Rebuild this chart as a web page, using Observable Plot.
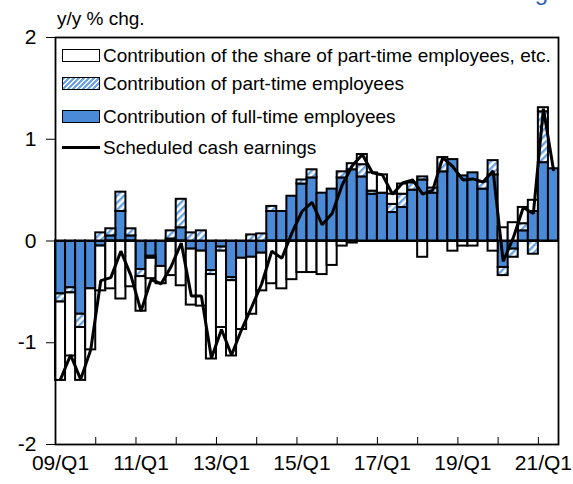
<!DOCTYPE html>
<html><head><meta charset="utf-8">
<script src="https://cdn.jsdelivr.net/npm/d3@7"></script>
<script src="https://cdn.jsdelivr.net/npm/@observablehq/plot@0.6"></script>
<style>
body{margin:0;background:#fff;font-family:"Liberation Sans",Arial,sans-serif;}
#wrap{position:relative;width:573px;height:484px;overflow:hidden;background:#fff;}
.lg{position:absolute;left:62px;display:flex;align-items:center;font-size:19px;color:#000;white-space:nowrap;line-height:1;}
.sw{width:38px;height:13px;border:1.8px solid #000;margin-right:3px;box-sizing:border-box;}
.ln{width:38px;height:3px;background:#000;margin-right:3px;}
.unit{position:absolute;left:57px;top:9px;font-size:19px;line-height:1;}
.ttl{position:absolute;right:13px;top:-20px;font-size:24px;line-height:24px;color:#2b5fae;}
</style></head><body><div id="wrap"></div>
<script>
const quarters = ["09/Q1","09/Q2","09/Q3","09/Q4","10/Q1","10/Q2","10/Q3","10/Q4",
  "11/Q1","11/Q2","11/Q3","11/Q4","12/Q1","12/Q2","12/Q3","12/Q4",
  "13/Q1","13/Q2","13/Q3","13/Q4","14/Q1","14/Q2","14/Q3","14/Q4",
  "15/Q1","15/Q2","15/Q3","15/Q4","16/Q1","16/Q2","16/Q3","16/Q4",
  "17/Q1","17/Q2","17/Q3","17/Q4","18/Q1","18/Q2","18/Q3","18/Q4",
  "19/Q1","19/Q2","19/Q3","19/Q4","20/Q1","20/Q2","20/Q3","20/Q4",
  "21/Q1","21/Q2"];
const tickLabels = ["09/Q1","11/Q1","13/Q1","15/Q1","17/Q1","19/Q1","21/Q1"];
const yTicks = [-2,-1,0,1,2];
const yearBoundaries = [0,4,8,12,16,20,24,28,32,36,40,44,48];

// Contribution of full-time employees
const fullTime = [-0.52,-0.46,-0.72,-0.47,-0.05,0.05,0.29,0.05,
  -0.28,-0.15,-0.25,0.02,0.13,-0.08,-0.10,-0.29,
  -0.06,-0.36,-0.17,-0.16,-0.12,0.29,0.29,0.44,
  0.56,0.62,0.47,0.51,0.62,0.70,0.63,0.46,
  0.47,0.28,0.33,0.50,0.60,0.47,0.68,0.80,
  0.64,0.67,0.51,0.65,-0.26,-0.08,0.10,0.29,
  0.77,0.71];
// Contribution of part-time employees
const partTime = [-0.08,-0.05,-0.13,0,0.08,0.07,0.19,0.07,
  -0.07,-0.02,0,0.08,0.28,0.08,0.10,-0.04,
  -0.04,-0.03,0,0.06,0.07,0.05,0,0,
  0.04,0.08,0,0,0.06,0.06,0.12,0.03,
  0,0.08,0.13,0.07,0.03,0.05,0.14,0,
  0,0,0.07,0.14,-0.08,-0.08,0.07,-0.13,
  0.50,0];
// Contribution of the share of part-time employees, etc.
const shareEtc = [-0.77,-0.62,-0.52,-0.60,-0.44,-0.47,-0.57,-0.45,
  -0.34,-0.20,-0.17,-0.34,-0.44,-0.55,-0.54,-0.83,
  -0.75,-0.74,-0.70,-0.56,-0.37,-0.42,-0.47,-0.38,
  -0.31,-0.31,-0.33,-0.24,-0.05,-0.02,0.10,0.18,
  0.18,0.10,0.10,0,-0.16,0,0,-0.10,
  -0.05,-0.05,0,-0.10,0.13,0.18,0.16,0.11,
  0.04,0];
// Scheduled cash earnings
const earnings = [-1.36,-1.12,-1.36,-1.07,-0.39,-0.36,-0.10,-0.34,
  -0.69,-0.38,-0.42,-0.25,-0.02,-0.54,-0.54,-1.15,
  -0.87,-1.12,-0.87,-0.65,-0.42,-0.10,-0.17,0.08,
  0.29,0.38,0.16,0.27,0.55,0.74,0.85,0.67,
  0.65,0.46,0.57,0.60,0.46,0.50,0.82,0.73,
  0.60,0.61,0.58,0.69,-0.20,0.03,0.33,0.27,
  1.30,0.70];

const seriesOrder = [["full", fullTime], ["part", partTime], ["share", shareEtc]];
const stacked = [];
quarters.forEach((q, i) => {
  let pos = 0, neg = 0;
  for (const [name, vals] of seriesOrder) {
    const v = vals[i];
    if (!v) continue;
    let y1, y2;
    if (v > 0) { y1 = pos; y2 = pos + v; pos = y2; }
    else { y1 = neg; y2 = neg + v; neg = y2; }
    stacked.push({series: name, q, x1: i, x2: i + 1, y1, y2});
  }
});
const lineData = quarters.map((q, i) => ({q, x: i + 0.5, v: earnings[i]}));

const fills = {full: "#4a8ad6", part: "url(#hatch)", share: "#ffffff"};
const barMarks = seriesOrder.map(([name]) =>
  Plot.rectY(stacked.filter(d => d.series === name), {
    x1: "x1", x2: "x2", y1: "y1", y2: "y2",
    fill: fills[name], stroke: "#000", strokeWidth: 2
  }));

const chart = Plot.plot({
  width: 573, height: 484,
  marginLeft: 55, marginRight: 15, marginTop: 37, marginBottom: 40,
  style: {fontFamily: "Liberation Sans, Arial, sans-serif", fontSize: "21px", color: "#000", background: "#fff", overflow: "visible"},
  x: {type: "linear", domain: [0, quarters.length], ticks: yearBoundaries, tickSize: -7, tickFormat: () => "", label: null},
  y: {domain: [-2, 2], ticks: yTicks, tickSize: 9, tickPadding: 10, tickFormat: d => String(d), label: null},
  marks: [
    ...barMarks,
    Plot.ruleY([0], {stroke: "#000", strokeWidth: 2}),
    Plot.line(lineData, {x: "x", y: "v", stroke: "#000", strokeWidth: 3, strokeLinejoin: "miter"}),
    Plot.text(tickLabels, {x: d => quarters.indexOf(d) + 0.5, frameAnchor: "bottom", dy: 25, text: d => d, fontSize: 21}),
    Plot.frame({stroke: "#000", strokeWidth: 1.8})
  ]
});

// hatch pattern
const ns = "http://www.w3.org/2000/svg";
const defs = document.createElementNS(ns, "defs");
const pat = document.createElementNS(ns, "pattern");
pat.setAttribute("id", "hatch");
pat.setAttribute("patternUnits", "userSpaceOnUse");
pat.setAttribute("width", "5");
pat.setAttribute("height", "5");
pat.setAttribute("patternTransform", "rotate(45)");
const bg = document.createElementNS(ns, "rect");
bg.setAttribute("width", "5"); bg.setAttribute("height", "5"); bg.setAttribute("fill", "#fff");
const st = document.createElementNS(ns, "rect");
st.setAttribute("width", "2.4"); st.setAttribute("height", "5"); st.setAttribute("fill", "#6aa3e4");
pat.appendChild(bg); pat.appendChild(st); defs.appendChild(pat);
chart.insertBefore(defs, chart.firstChild);

const wrap = document.getElementById("wrap");
wrap.appendChild(chart);

const ttl = document.createElement("div"); ttl.className = "ttl"; ttl.textContent = "Earnings"; wrap.appendChild(ttl);
const unit = document.createElement("div"); unit.className = "unit"; unit.textContent = "y/y % chg."; wrap.appendChild(unit);

const legendItems = [
  {label: "Contribution of the share of part-time employees, etc.", kind: "box", fill: "#ffffff", top: 46},
  {label: "Contribution of part-time employees", kind: "box", fill: "hatch", top: 74},
  {label: "Contribution of full-time employees", kind: "box", fill: "#4a8ad6", top: 107},
  {label: "Scheduled cash earnings", kind: "line", top: 138}
];
for (const it of legendItems) {
  const row = document.createElement("div");
  row.className = "lg"; row.style.top = it.top + "px";
  const sw = document.createElement("div");
  if (it.kind === "line") sw.className = "ln";
  else {
    sw.className = "sw";
    if (it.fill === "hatch") sw.style.background = "repeating-linear-gradient(-45deg,#6aa3e4 0 1.7px,#fff 1.7px 3.5px)";
    else sw.style.background = it.fill;
  }
  const tx = document.createElement("span"); tx.textContent = it.label;
  row.appendChild(sw); row.appendChild(tx); wrap.appendChild(row);
}
</script></body></html>
